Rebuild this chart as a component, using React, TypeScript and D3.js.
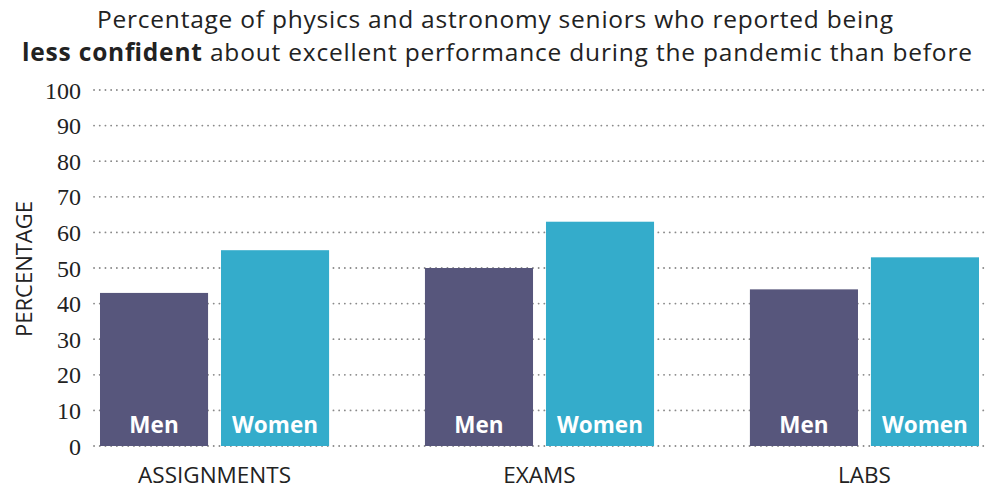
import React from 'react';
import * as d3 from 'd3';

const categories = ['ASSIGNMENTS', 'EXAMS', 'LABS'];
const groups = ['Men', 'Women'];
const menValues = [43, 50, 44];
const womenValues = [55, 63, 53];
const yTicks = [0, 10, 20, 30, 40, 50, 60, 70, 80, 90, 100];

const width = 989;
const height = 490;
const colors = ['#57567c', '#34accb'];

export default function App() {
  const y = d3.scaleLinear().domain([0, 100]).range([446, 90]);

  const x = d3.scaleBand<string>()
    .domain(categories)
    .range([48, 1031])
    .paddingInner(0.295)
    .paddingOuter(0.16);

  const xInner = d3.scaleBand<string>()
    .domain(groups)
    .range([0, x.bandwidth()])
    .paddingInner(0.107);

  const sans = '"Open Sans", "Noto Sans", sans-serif';
  const serif = 'Liberation Serif, DejaVu Serif, serif';

  return (
    <svg width={width} height={height}
      style={{ position: 'absolute', left: 0, top: 0, background: '#fff' }}>
      {/* title */}
      <g style={{ fontFamily: sans }} fill="#222" fontSize={24.5} textAnchor="middle">
        <text x={495} y={28} textLength={796} lengthAdjust="spacing">
          Percentage of physics and astronomy seniors who reported being
        </text>
        <text x={497} y={61} textLength={950} lengthAdjust="spacing">
          <tspan fontWeight="bold">less confident</tspan> about excellent performance during the pandemic than before
        </text>
      </g>

      {/* grid */}
      {yTicks.map(t => (
        <g key={t}>
          <line x1={94} x2={985} y1={y(t)} y2={y(t)} stroke="#8a8a8a" strokeWidth={1.8}
            strokeDasharray="0.1,5.6" strokeLinecap="round" />
          <text x={81} y={y(t)} dy="0.36em" textAnchor="end" fontFamily={serif}
            fontSize={24} fill="#222">
            {t}
          </text>
        </g>
      ))}

      <text transform={`translate(32, 269) rotate(-90)`} textAnchor="middle" style={{ fontFamily: sans }}
        fontSize={22} fill="#222">PERCENTAGE</text>

      {/* bars */}
      {categories.map((c, i) => {
        const vals = [menValues[i], womenValues[i]];
        return (
          <g key={c} transform={`translate(${x(c)},0)`}>
            {groups.map((g, j) => (
              <g key={g}>
                <rect x={xInner(g)} y={y(vals[j])} width={xInner.bandwidth()}
                  height={y(0) - y(vals[j])} fill={colors[j]} />
                <text x={(xInner(g) as number) + xInner.bandwidth() / 2} y={433}
                  textAnchor="middle" style={{ fontFamily: sans }} fontWeight="bold" fontSize={22.5} fill="#fff">
                  {g}
                </text>
              </g>
            ))}
            <text x={x.bandwidth() / 2} y={483} textAnchor="middle" style={{ fontFamily: sans }}
              fontSize={22.5} fill="#222">{c}</text>
          </g>
        );
      })}
    </svg>
  );
}
